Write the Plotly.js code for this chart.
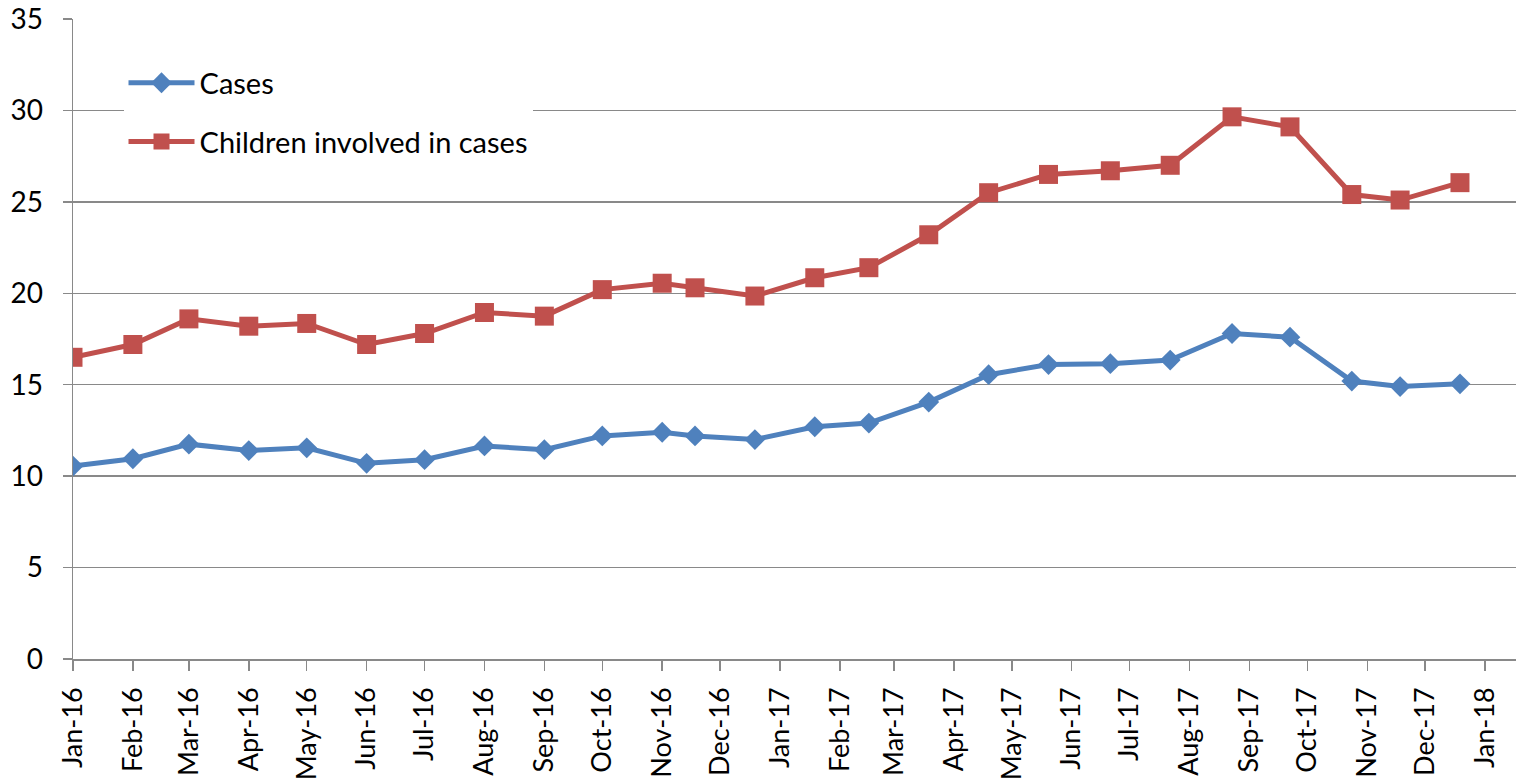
<!DOCTYPE html>
<html>
<head>
<meta charset="utf-8">
<script src="https://cdn.plot.ly/plotly-3.0.1.min.js"></script>
<style>html,body{margin:0;padding:0;background:#fff;}#chart{width:1516px;height:779px;}</style>
</head>
<body>
<div id="chart"></div>
<script>
const dates = ['2016-01-01','2016-02-01','2016-03-01','2016-04-01','2016-05-01','2016-06-01','2016-07-01','2016-08-01','2016-09-01','2016-10-01','2016-11-01','2016-11-18','2016-12-19','2017-01-19','2017-02-16','2017-03-19','2017-04-19','2017-05-20','2017-06-21','2017-07-22','2017-08-23','2017-09-22','2017-10-24','2017-11-18','2017-12-19'];
const cases = [10.55,10.95,11.75,11.4,11.55,10.7,10.9,11.65,11.45,12.2,12.4,12.2,12.0,12.7,12.9,14.05,15.55,16.1,16.15,16.35,17.8,17.6,15.2,14.9,15.05];
const children = [16.5,17.2,18.6,18.2,18.35,17.2,17.8,18.95,18.75,20.2,20.55,20.3,19.85,20.85,21.4,23.2,25.5,26.5,26.7,27.0,29.65,29.1,25.4,25.1,26.05];
const tickVals = ['2016-01-01','2016-02-01','2016-03-01','2016-04-01','2016-05-01','2016-06-01','2016-07-01','2016-08-01','2016-09-01','2016-10-01','2016-11-01','2016-12-01','2017-01-01','2017-02-01','2017-03-01','2017-04-01','2017-05-01','2017-06-01','2017-07-01','2017-08-01','2017-09-01','2017-10-01','2017-11-01','2017-12-01','2018-01-01'];
const tickText = ['Jan-16','Feb-16','Mar-16','Apr-16','May-16','Jun-16','Jul-16','Aug-16','Sep-16','Oct-16','Nov-16','Dec-16','Jan-17','Feb-17','Mar-17','Apr-17','May-17','Jun-17','Jul-17','Aug-17','Sep-17','Oct-17','Nov-17','Dec-17','Jan-18'];
const yTicks = [0,5,10,15,20,25,30,35];

const FONT = 'Lato, "Open Sans", sans-serif';
const traces = [
  {x: dates, y: cases, name: 'Cases', type: 'scatter', mode: 'lines+markers', legendgroup: 'a',
   line: {color: '#4F81BD', width: 5}, marker: {symbol: 'diamond', size: 16, color: '#4F81BD'}},
  {x: dates, y: children, name: 'Children involved in cases', type: 'scatter', mode: 'lines+markers', legendgroup: 'b',
   line: {color: '#C0504D', width: 5}, marker: {symbol: 'square', size: 19, color: '#C0504D'}}
];
const layout = {
  width: 1516, height: 779, autosize: false,
  margin: {l: 73, r: 0, t: 19, b: 120, pad: 0},
  paper_bgcolor: '#fff', plot_bgcolor: '#fff',
  font: {family: FONT, size: 28, color: '#000'},
  showlegend: true,
  legend: {x: 0.035, y: 0.94, xanchor: 'left', yanchor: 'top', bgcolor: '#fff', itemwidth: 66,
           font: {family: FONT, size: 29, color: '#000'}, traceorder: 'grouped', tracegroupgap: 18},
  xaxis: {type: 'date', range: ['2016-01-01', '2018-01-17'], tickmode: 'array', tickvals: tickVals, ticktext: tickText,
          tickangle: -90, showgrid: false, zeroline: false, showline: true, linecolor: '#898989', linewidth: 1.5,
          ticks: 'outside', ticklen: 10, tickwidth: 1.5, tickcolor: '#898989', ticklabelstandoff: 6,
          tickfont: {family: FONT, size: 27, color: '#000'}, fixedrange: true},
  yaxis: {range: [0, 35], tickmode: 'array', tickvals: yTicks, showgrid: true, gridcolor: '#898989', gridwidth: 1.5,
          zeroline: false, showline: true, linecolor: '#898989', linewidth: 1.5,
          ticks: 'outside', ticklen: 9, tickwidth: 1.5, tickcolor: '#898989', ticklabelstandoff: 14,
          tickfont: {family: FONT, size: 28, color: '#000'}, fixedrange: true}
};
Plotly.newPlot('chart', traces, layout, {displayModeBar: false, staticPlot: true});
</script>
</body>
</html>
